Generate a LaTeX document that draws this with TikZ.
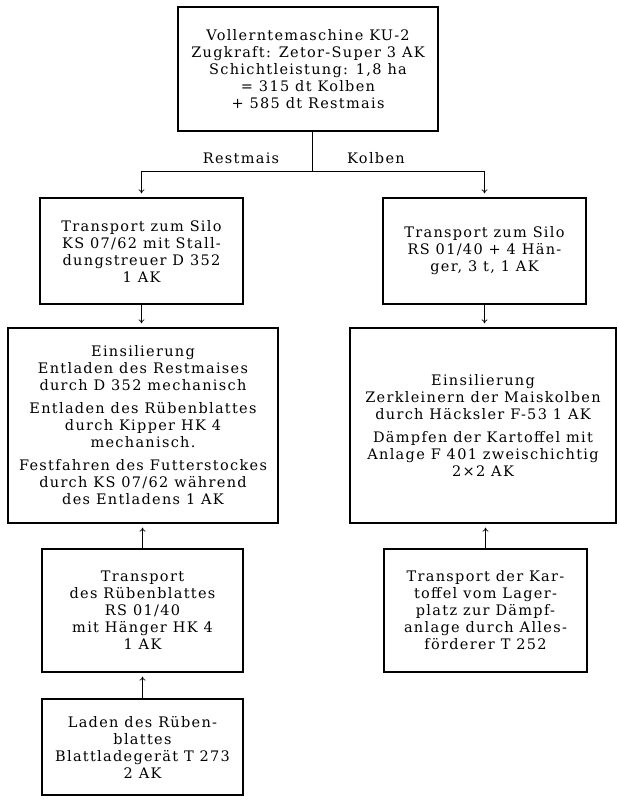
\documentclass[tikz,border=0pt]{standalone}
\usepackage{fontspec}
\setmainfont{DejaVu Serif}[LetterSpace=9]
\usetikzlibrary{arrows.meta}
\tikzset{
  box/.style={draw, line width=1.2pt, inner sep=0pt, align=center,
    font=\fontsize{14.5}{17}\selectfont},
  lbl/.style={inner sep=0pt, font=\fontsize{14.5}{17}\selectfont},
  conn/.style={line width=0.7pt},
  arr/.style={line width=0.7pt, -{To[length=4pt,width=6pt]}, shorten >=4pt}
}
\begin{document}
\begin{tikzpicture}[x=1pt,y=-1pt]
\fill[white] (0,0) rectangle (618,805);
\useasboundingbox (0,0) rectangle (618,805);

\node[box, minimum width=260pt, minimum height=124pt] (T) at (308,69)
 {Vollerntemaschine KU-2\\Zugkraft: Zetor-Super 3 AK\\Schichtleistung: 1,8 ha\\= 315 dt Kolben\\+ 585 dt Restmais};

\node[box, minimum width=203pt, minimum height=106pt] (L2) at (141.5,251)
 {Transport zum Silo\\KS 07/62 mit Stall-\\dungstreuer D 352\\1 AK};
\node[box, minimum width=203pt, minimum height=106pt] (R2) at (484.5,251)
 {Transport zum Silo\\RS 01/40 + 4 Hän-\\ger, 3 t, 1 AK};

\node[box, minimum width=270pt, minimum height=195pt] (L3) at (143,425.5)
 {Einsilierung\\Entladen des Restmaises\\durch D 352 mechanisch\\[6pt]
  Entladen des Rübenblattes\\durch Kipper HK 4\\mechanisch.\\[6pt]
  Festfahren des Futterstockes\\durch KS 07/62 während\\des Entladens 1 AK};
\node[box, minimum width=266pt, minimum height=195pt] (R3) at (483,425.5)
 {Einsilierung\\Zerkleinern der Maiskolben\\durch Häcksler F-53 1 AK\\[6pt]
  Dämpfen der Kartoffel mit\\Anlage F 401 zweischichtig\\2×2 AK};

\node[box, minimum width=201pt, minimum height=123pt] (L4) at (142.5,610.5)
 {Transport\\des Rübenblattes\\RS 01/40\\mit Hänger HK 4\\1 AK};
\node[box, minimum width=201pt, minimum height=96pt] (L5) at (142.5,747)
 {Laden des Rüben-\\blattes\\Blattladegerät T 273\\2 AK};
\node[box, minimum width=203pt, minimum height=123pt] (R4) at (485.5,610.5)
 {Transport der Kar-\\toffel vom Lager-\\platz zur Dämpf-\\anlage durch Alles-\\förderer T 252};

\coordinate (j) at (312,171);
\draw[conn] (T.south -| j) -- (j);
\draw[conn] (L2.north |- j) -- (R2.north |- j);
\draw[arr] (L2.north |- j) -- (L2.north);
\draw[arr] (R2.north |- j) -- (R2.north);
\node[lbl] (rm) at (241,158) {Restmais};
\node[lbl] (kb) at (376,158) {Kolben};

\draw[arr] (L2.south) -- (L2.south |- L3.north);
\draw[arr] (R2.south) -- (R2.south |- R3.north);
\draw[arr] (L4.north) -- (L4.north |- L3.south);
\draw[arr] (L5.north) -- (L4.south);
\draw[arr] (R4.north) -- (R4.north |- R3.south);
\end{tikzpicture}
\end{document}
